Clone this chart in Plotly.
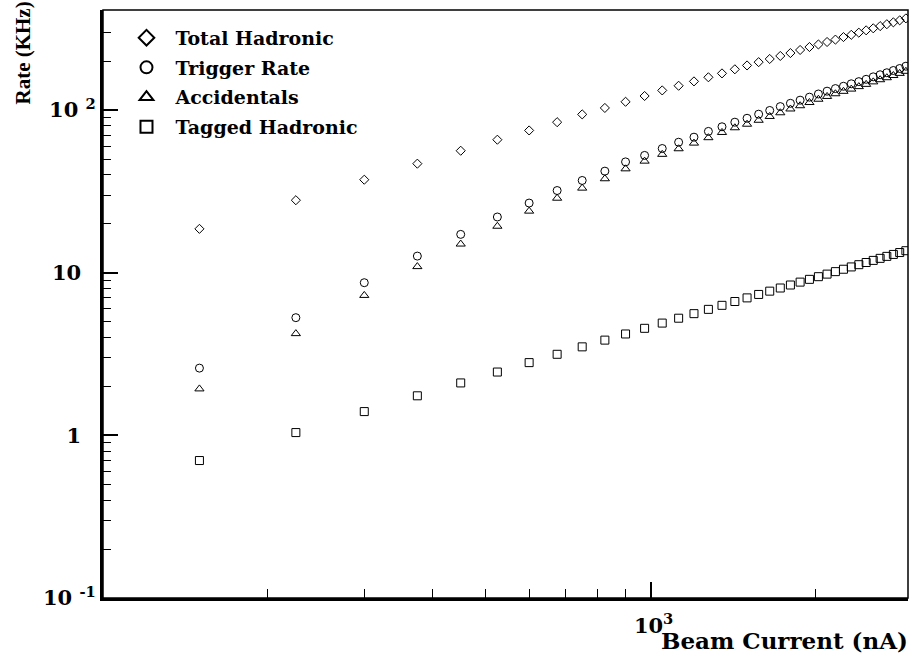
import plotly.graph_objects as go

beam_current = [150, 225, 300, 375, 450, 525, 600, 675, 750, 825, 900, 975, 1050, 1125,
                1200, 1275, 1350, 1425, 1500, 1575, 1650, 1725, 1800, 1875, 1950, 2025,
                2100, 2175, 2250, 2325, 2400, 2475, 2550, 2625, 2700, 2775, 2850, 2925]

total_hadronic = [18.6, 27.9, 37.3, 46.8, 56.2, 65.7, 74.9, 84.2, 94.0, 103, 112.4, 122,
                  132, 141, 150, 159, 168, 178, 188, 197, 206, 215, 224, 234, 244, 253,
                  262, 271, 281, 290, 299, 309, 318, 328, 337, 346, 356, 366]

trigger_rate = [2.59, 5.29, 8.68, 12.65, 17.2, 22.0, 26.8, 32.0, 36.9, 42.1, 48.0, 52.6,
                58.0, 63.4, 68.1, 73.9, 78.9, 84.2, 89.0, 94.3, 99.4, 105.0, 110.0, 115.0,
                120.0, 125.5, 130.6, 135.5, 140.0, 145.0, 149.5, 154.5, 160.0, 164.8,
                169.5, 175.0, 180.0, 186.0]

accidentals = [1.93, 4.22, 7.25, 10.9, 15.0, 19.3, 23.9, 28.7, 33.1, 37.8, 43.5, 48.5,
               53.4, 57.8, 62.6, 67.6, 72.8, 77.8, 81.8, 86.5, 91.3, 96.2, 101.5, 106.3,
               111.2, 116.5, 121.2, 125.9, 130.3, 134.5, 139.3, 143.8, 149.0, 153.6,
               158.0, 163.0, 168.0, 173.0]

tagged_hadronic = [0.70, 1.04, 1.40, 1.75, 2.10, 2.45, 2.80, 3.15, 3.50, 3.85, 4.20, 4.55,
                   4.90, 5.25, 5.60, 5.95, 6.30, 6.65, 7.00, 7.35, 7.70, 8.05, 8.40, 8.75,
                   9.10, 9.45, 9.80, 10.15, 10.5, 10.85, 11.2, 11.55, 11.9, 12.25, 12.6,
                   12.95, 13.3, 13.65]

series_names = ["Total Hadronic", "Trigger Rate", "Accidentals", "Tagged Hadronic"]

y_tick_vals = [0.1, 1, 10, 100]
y_tick_text = ["10 <sup>-1</sup>", "1\u00a0\u00a0", "10\u00a0\u00a0", "10 <sup>2</sup>"]
x_tick_vals = [1000]
x_tick_text = ["10<sup>3</sup>"]

WIDE = "DejaVu Serif"
TIMES = "Liberation Serif"

fig = go.Figure()
specs = [
    (total_hadronic, "diamond-open", 7),
    (trigger_rate, "circle-open", 8),
    (accidentals, "triangle-up-open", 8),
    (tagged_hadronic, "square-open", 8),
]
for name, (vals, sym, size) in zip(series_names, specs):
    fig.add_trace(go.Scatter(
        x=beam_current, y=vals, mode="markers", name=name, legendgroup=name,
        marker=dict(symbol=sym, size=size, color="black", line=dict(color="black", width=1)),
        cliponaxis=True,
    ))

fig.update_layout(
    width=912, height=656,
    margin=dict(l=103, r=4, t=10, b=58),
    paper_bgcolor="white", plot_bgcolor="white",
    showlegend=True,
    legend=dict(
        x=0.018, y=0.985, xanchor="left", yanchor="top",
        bgcolor="rgba(0,0,0,0)",
        font=dict(family=WIDE, size=19, color="black", weight="bold"),
        tracegroupgap=2, itemsizing="constant", itemwidth=48,
    ),
    font=dict(family=WIDE, color="black"),
)

fig.update_xaxes(
    type="log", range=[2, 3.47],
    showgrid=False, zeroline=False,
    showline=True, linecolor="black", linewidth=3,
    ticks="inside", ticklen=16, tickwidth=1.5, tickcolor="black",
    tickvals=x_tick_vals, ticktext=x_tick_text,
    ticklabelstandoff=7, ticklabelshift=3,
    tickfont=dict(family=WIDE, size=21, color="black", weight="bold"),
    minor=dict(ticks="inside", ticklen=9, tickwidth=1, tickcolor="black",
               tickvals=[200, 300, 400, 500, 600, 700, 800, 900, 2000], showgrid=False),
)
fig.update_yaxes(
    type="log", range=[-1, 2.615],
    showgrid=False, zeroline=False,
    showline=True, linecolor="black", linewidth=3,
    ticks="inside", ticklen=15, tickwidth=1.5, tickcolor="black",
    tickvals=y_tick_vals, ticktext=y_tick_text,
    ticklabelstandoff=0,
    tickfont=dict(family=WIDE, size=21, color="black", weight="bold"),
    minor=dict(ticks="inside", ticklen=8, tickwidth=1, tickcolor="black",
               tickvals=[0.2, 0.3, 0.4, 0.5, 0.6, 0.7, 0.8, 0.9,
                         2, 3, 4, 5, 6, 7, 8, 9,
                         20, 30, 40, 50, 60, 70, 80, 90, 200, 300], showgrid=False),
)

# thin frame on top/right
fig.add_shape(type="rect", xref="paper", yref="paper", x0=0, y0=0, x1=1, y1=1,
              line=dict(color="black", width=1.5), layer="above")

fig.add_annotation(text="Beam Current (nA)", xref="paper", yref="paper",
                   x=1.0025, y=-0.046, xanchor="right", yanchor="top", showarrow=False,
                   font=dict(family=WIDE, size=23, color="black", weight="bold"))
fig.add_annotation(text="Rate (KHz)", xref="paper", yref="paper",
                   x=-0.099, y=0.9265, xanchor="center", yanchor="middle", textangle=-90,
                   showarrow=False,
                   font=dict(family=TIMES, size=21, color="black", weight="bold"))

fig.write_html(
    "out.html",
    config={"displayModeBar": False},
    post_script="document.body.style.margin='0';document.documentElement.style.overflow='hidden';",
)
